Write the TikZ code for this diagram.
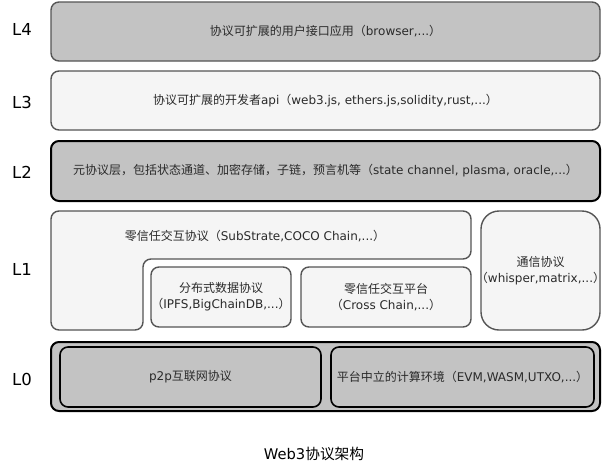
\documentclass[tikz,border=0pt]{standalone}
\usepackage{fontspec}
\setmainfont{DejaVu Sans}
\newfontfamily\cjk{Noto Sans CJK SC}
\newcommand\zh[1]{{\cjk #1}}
\definecolor{gfill}{HTML}{C3C3C3}
\definecolor{lfill}{HTML}{F5F5F5}
\definecolor{boxline}{HTML}{555555}
\definecolor{txt}{HTML}{2A2A2A}
\begin{document}
\begin{tikzpicture}[x=1pt,y=-1pt,
  box/.style={rounded corners=8pt, draw=boxline, line width=1.4pt, inner sep=0pt,
    text=txt, font=\fontsize{12}{16}\selectfont, align=center},
  darkbox/.style={box, draw=black, line width=2pt},
  innerbox/.style={box, draw=black, line width=1.6pt},
  txtnode/.style={inner sep=0pt, text=txt, font=\fontsize{12}{16}\selectfont, align=center},
  lab/.style={inner sep=0pt, font=\fontsize{16.5}{18}\selectfont},
  capstyle/.style={inner sep=0pt, font=\fontsize{14.7}{16}\selectfont}]
\useasboundingbox (0,0) rectangle (607,464);
% L4
\node[box, fill=gfill, minimum width=549pt, minimum height=59pt] (l4) at (325.5,31.5)
  {\zh{协议可扩展的用户接口应用（}browser,...\zh{）}};
% L3
\node[box, fill=lfill, minimum width=549pt, minimum height=59pt] (l3) at (325.5,100.5)
  {\zh{协议可扩展的开发者}api\zh{（}web3.js, ethers.js,solidity,rust,...\zh{）}};
% L2
\node[darkbox, fill=gfill, minimum width=549pt, minimum height=60pt] (l2) at (325.5,171)
  {\zh{元协议层，包括状态通道、加密存储，子链，预言机等（}state channel, plasma, oracle,...\zh{）}};
% L1 L-shape
\draw[rounded corners=8pt, draw=boxline, line width=1.4pt, fill=lfill]
  (250,211) -- (471,211) -- (471,259) -- (143,259) -- (143,330) -- (51,330) -- (51,211) -- cycle;
\node[txtnode] (l1t) at (255,236) {\zh{零信任交互协议（}SubStrate,COCO Chain,...\zh{）}};
\node[box, fill=lfill, minimum width=140pt, minimum height=60pt] (dist) at (221,297)
  {\zh{分布式数据协议}\\\zh{（}IPFS,BigChainDB,...\zh{）}};
\node[box, fill=lfill, minimum width=170pt, minimum height=60pt] (cross) at (386,297)
  {\zh{零信任交互平台}\\\zh{（}Cross Chain,...\zh{）}};
\node[box, rounded corners=18pt, fill=lfill, minimum width=119pt, minimum height=119pt] (comm) at (540.5,270.5)
  {\zh{通信协议}\\\makebox[100pt][c]{\zh{（}whisper,matrix,...\zh{）}}};
% L0
\node[darkbox, fill=gfill, minimum width=549pt, minimum height=69pt] (l0) at (325.5,376.5) {};
\node[innerbox, fill=gfill, minimum width=261pt, minimum height=60pt] (p2p) at (190.5,377)
  {p2p\zh{互联网协议}};
\node[innerbox, fill=gfill, minimum width=263pt, minimum height=60pt] (comp) at (462.5,377)
  {\zh{平台中立的计算环境（}EVM,WASM,UTXO,...\zh{）}};
% layer labels
\node[lab] (L4) at (22,29) {L4};
\node[lab] (L3) at (22,102) {L3};
\node[lab] (L2) at (22,172) {L2};
\node[lab] (L1) at (22,269) {L1};
\node[lab] (L0) at (22,379) {L0};
% caption
\node[capstyle] (cap) at (314,454) {Web3\zh{协议架构}};
\end{tikzpicture}
\end{document}
